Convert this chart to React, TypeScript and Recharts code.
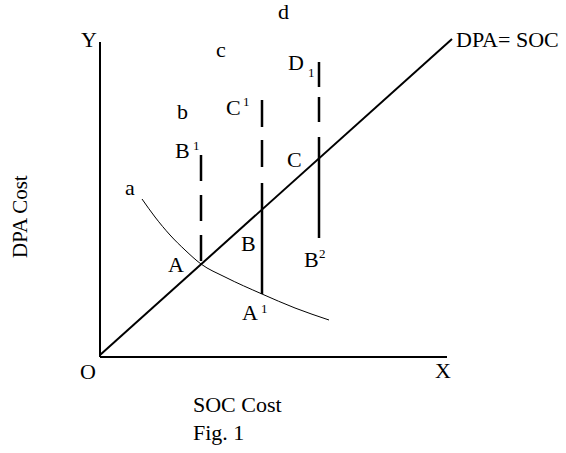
import React from 'react';
import { ComposedChart, Line, Scatter, XAxis, YAxis } from 'recharts';

// Coordinates in the chart's own units (origin O at 0,0)
const yAxisLine = [{ x: 0, y: 0 }, { x: 0, y: 315 }];
const xAxisLine = [{ x: 0, y: 0 }, { x: 347, y: 0 }];
const dpaEqualsSoc = [{ x: 0, y: 2 }, { x: 352, y: 318 }];
const curveA = [
  { x: 42, y: 158 },
  { x: 55, y: 140 },
  { x: 70, y: 122 },
  { x: 85, y: 107 },
  { x: 101, y: 93 },
  { x: 125, y: 80 },
  { x: 162, y: 63 },
  { x: 195, y: 49 },
  { x: 229, y: 37 },
];
const dashB1 = [{ x: 101, y: 202 }, { x: 101, y: 93 }];
const dashC1 = [{ x: 162, y: 257 }, { x: 162, y: 189 }];
const solidBA1 = [{ x: 162, y: 174 }, { x: 162, y: 63 }];
const dashD1 = [{ x: 219, y: 295 }, { x: 219, y: 234 }];
const solidCB2 = [{ x: 219, y: 220 }, { x: 219, y: 119 }];

const mainLabels = [
  { x: -19, y: 310, text: 'Y' },
  { x: 178, y: 338, text: 'd' },
  { x: 356, y: 310, text: 'DPA= SOC' },
  { x: 116, y: 300, text: 'c' },
  { x: 188, y: 287, text: 'D' },
  { x: 126, y: 242, text: 'C' },
  { x: 77, y: 238, text: 'b' },
  { x: 75, y: 199, text: 'B' },
  { x: 25, y: 162, text: 'a' },
  { x: 187, y: 190, text: 'C' },
  { x: 141, y: 106, text: 'B' },
  { x: 68, y: 85, text: 'A' },
  { x: 142, y: 37, text: 'A' },
  { x: 204, y: 90, text: 'B' },
  { x: -20, y: -22, text: 'O' },
  { x: 335, y: -21, text: 'X' },
  { x: 93, y: -55, text: 'SOC Cost' },
  { x: 93, y: -83, text: 'Fig. 1' },
];
const smallLabels = [
  { x: 208, y: 280, text: '1' },
  { x: 143, y: 251, text: '1' },
  { x: 93, y: 207, text: '1' },
  { x: 161, y: 44, text: '1' },
  { x: 219, y: 99, text: '2' },
];
const sideLabels = [{ x: -73, y: 99, text: 'DPA Cost' }];

const FONT = '"Liberation Serif", "Times New Roman", serif';

const MainText = (props: any) => (
  <text x={props.cx} y={props.cy} fontFamily={FONT} fontSize={22} fill="#000">
    {props.payload.text}
  </text>
);
const SmallText = (props: any) => (
  <text x={props.cx} y={props.cy} fontFamily={FONT} fontSize={13} fill="#000">
    {props.payload.text}
  </text>
);
const SideText = (props: any) => (
  <text
    x={props.cx}
    y={props.cy}
    fontFamily={FONT}
    fontSize={21}
    fill="#000"
    transform={`rotate(-90, ${props.cx}, ${props.cy})`}
  >
    {props.payload.text}
  </text>
);

const common = { dataKey: 'y', dot: false, activeDot: false, isAnimationActive: false, stroke: '#000', type: 'linear' as const };

export default function App() {
  return (
    <div style={{ position: 'absolute', left: 0, top: 0, width: 566, height: 453, background: '#fff' }}>
      <ComposedChart width={566} height={453} margin={{ top: 0, right: 0, bottom: 0, left: 0 }}>
        <XAxis type="number" dataKey="x" domain={[-100, 466]} allowDataOverflow hide />
        <YAxis type="number" dataKey="y" domain={[-96, 357]} allowDataOverflow hide />
        <Line {...common} data={yAxisLine} strokeWidth={2} />
        <Line {...common} data={xAxisLine} strokeWidth={2} />
        <Line {...common} data={dpaEqualsSoc} strokeWidth={2} />
        <Line {...common} data={curveA} strokeWidth={1} type="monotone" />
        <Line {...common} data={dashB1} strokeWidth={2.5} strokeDasharray="26 14" />
        <Line {...common} data={dashC1} strokeWidth={2.5} strokeDasharray="27 13" />
        <Line {...common} data={solidBA1} strokeWidth={2.5} />
        <Line {...common} data={dashD1} strokeWidth={2.5} strokeDasharray="25 10" />
        <Line {...common} data={solidCB2} strokeWidth={2.5} />
        <Scatter data={mainLabels} dataKey="y" shape={MainText} isAnimationActive={false} />
        <Scatter data={smallLabels} dataKey="y" shape={SmallText} isAnimationActive={false} />
        <Scatter data={sideLabels} dataKey="y" shape={SideText} isAnimationActive={false} />
      </ComposedChart>
    </div>
  );
}
